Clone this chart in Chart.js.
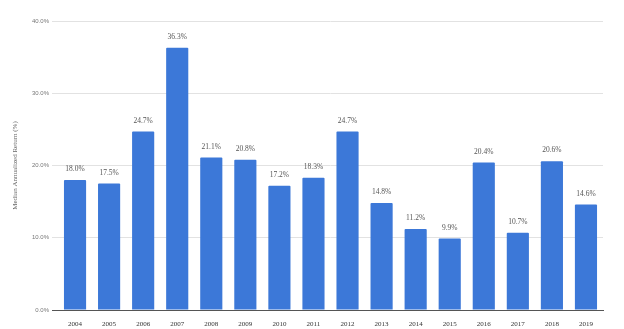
<!DOCTYPE html>
<html lang="en">
<head>
    <meta charset="UTF-8">
    <title>Median Annualized Return</title>
    <style>
        html, body { margin: 0; padding: 0; background: #fff; }
    </style>
</head>
<body>

<canvas id="returnsChart" width="624" height="329"></canvas>

<script src="https://cdn.jsdelivr.net/npm/chart.js"></script>
<script>
    const years = ['2004', '2005', '2006', '2007', '2008', '2009', '2010', '2011',
                   '2012', '2013', '2014', '2015', '2016', '2017', '2018', '2019'];
    const medianReturns = [18.0, 17.5, 24.7, 36.3, 21.1, 20.8, 17.2, 18.3,
                           24.7, 14.8, 11.2, 9.9, 20.4, 10.7, 20.6, 14.6];
    const yTicks = [0, 10, 20, 30, 40];

    // value labels above each bar
    const barLabels = {
        id: 'barLabels',
        afterDatasetsDraw(chart) {
            const ctx = chart.ctx;
            const meta = chart.getDatasetMeta(0);
            ctx.save();
            ctx.font = '7.5px "Liberation Serif"';
            ctx.fillStyle = '#555';
            ctx.textAlign = 'center';
            ctx.textBaseline = 'bottom';
            meta.data.forEach((bar, i) => {
                ctx.fillText(medianReturns[i].toFixed(1) + '%', bar.x, bar.y - 7);
            });
            ctx.restore();
        }
    };

    const ctx = document.getElementById('returnsChart').getContext('2d');
    new Chart(ctx, {
        type: 'bar',
        data: {
            labels: years,
            datasets: [{
                data: medianReturns,
                backgroundColor: '#3c78d8',
                borderRadius: 1,
                categoryPercentage: 1,
                barPercentage: 0.65
            }]
        },
        options: {
            responsive: false,
            animation: false,
            devicePixelRatio: 1,
            layout: { padding: { top: 21, right: 21, left: 0, bottom: 0 } },
            plugins: {
                legend: { display: false },
                tooltip: { enabled: false }
            },
            scales: {
                x: {
                    grid: { display: false },
                    border: { color: '#555' },
                    ticks: {
                        color: '#333',
                        font: { family: 'Liberation Serif', size: 7 },
                        padding: 2,
                        autoSkip: false,
                        maxRotation: 0
                    },
                    afterFit(scale) { scale.height = 19; }
                },
                y: {
                    min: 0,
                    max: 40,
                    afterBuildTicks(scale) {
                        scale.ticks = yTicks.map(v => ({ value: v }));
                    },
                    grid: {
                        color: c => c.tick && c.tick.value === 0 ? '#555' : '#e2e2e2',
                        tickLength: 6
                    },
                    border: { display: false },
                    ticks: {
                        color: '#777',
                        font: { family: 'Liberation Sans', size: 6 },
                        padding: 3,
                        callback: v => v.toFixed(1) + '%'
                    },
                    title: {
                        display: true,
                        text: 'Median Annualized Return (%)',
                        color: '#666',
                        font: { family: 'Liberation Serif', size: 7 },
                        padding: { top: 11, bottom: 0 }
                    },
                    afterFit(scale) { scale.width = 58; }
                }
            }
        },
        plugins: [barLabels]
    });
</script>

</body>
</html>
